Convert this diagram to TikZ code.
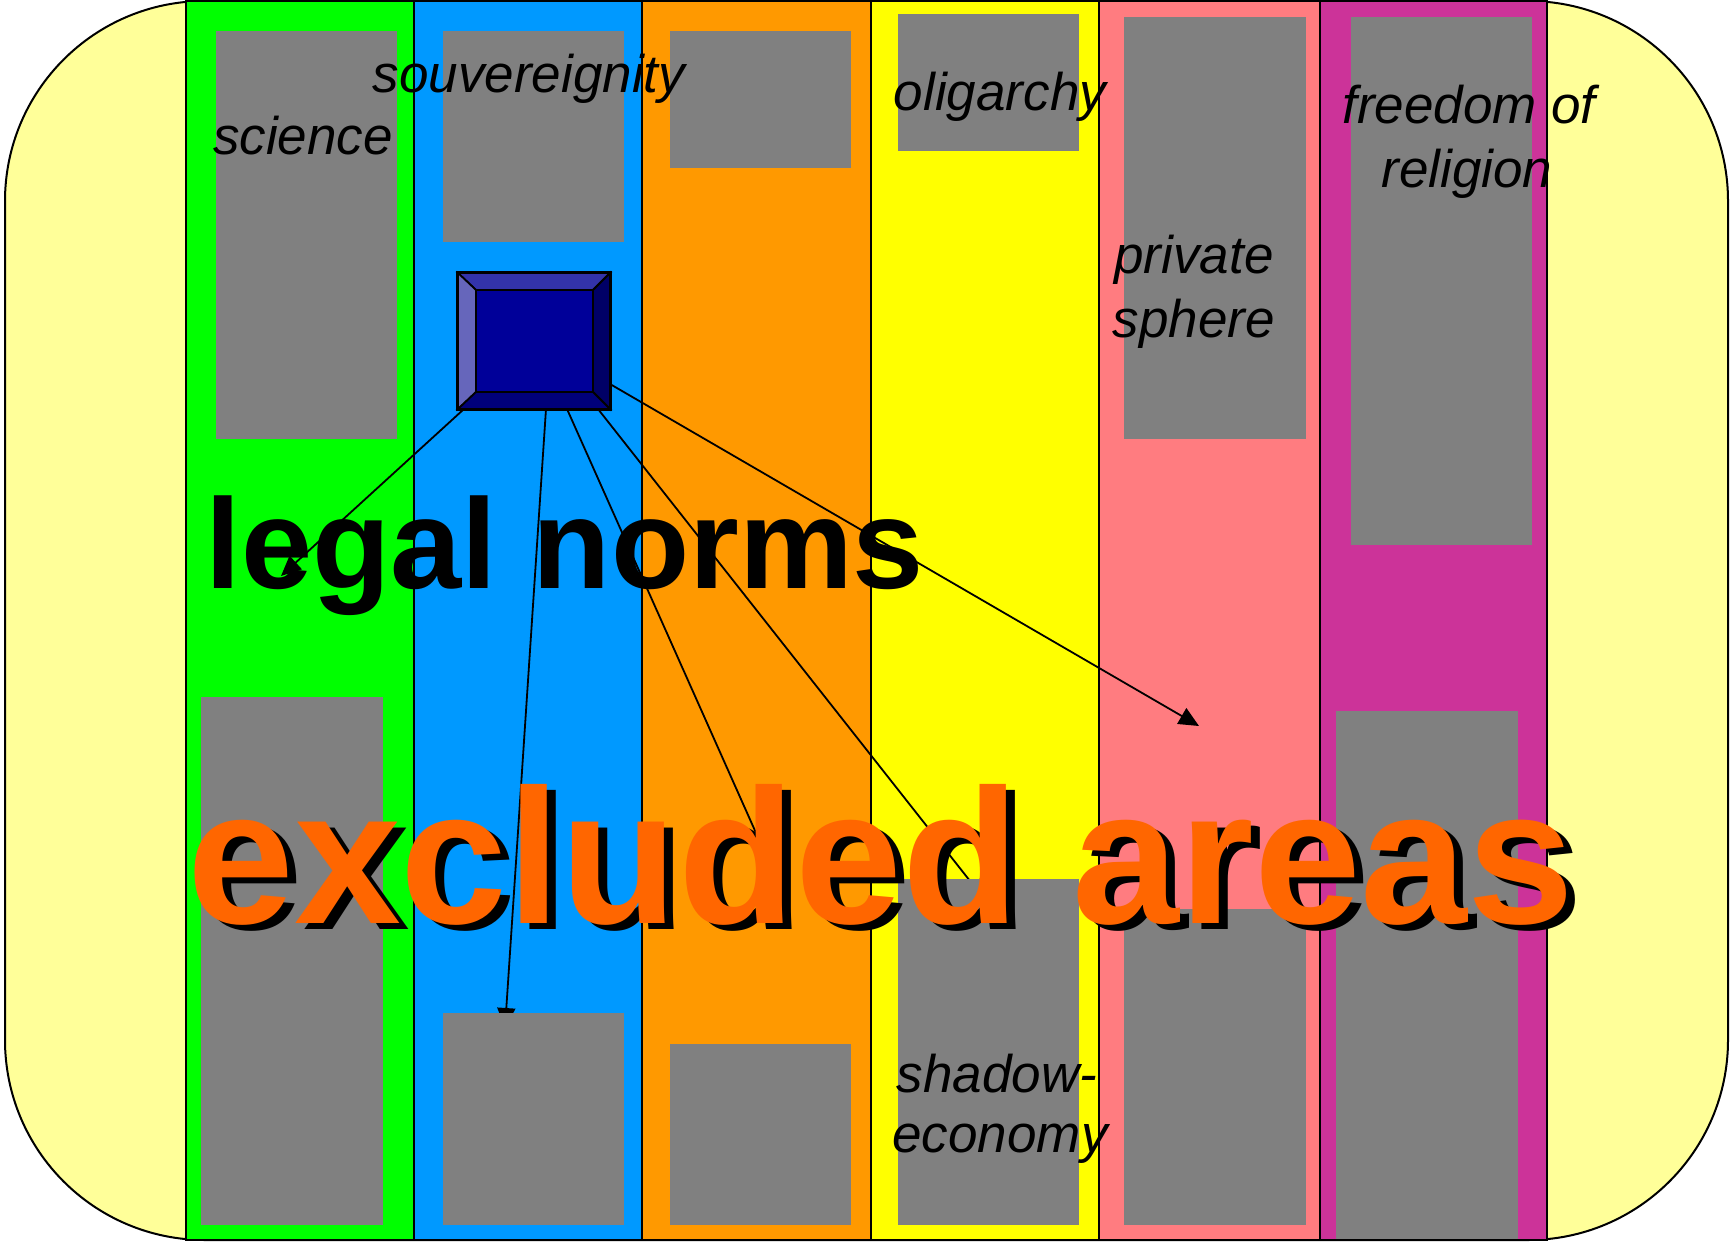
\documentclass[tikz,border=0pt]{standalone}
\usepackage{fontspec}
\setmainfont{Liberation Sans}
\usetikzlibrary{arrows.meta,calc}
\definecolor{bgyellow}{HTML}{FFFF99}
\definecolor{cgreen}{HTML}{00FF00}
\definecolor{cblue}{HTML}{0099FF}
\definecolor{corange}{HTML}{FF9900}
\definecolor{cyellow}{HTML}{FFFF00}
\definecolor{cpink}{HTML}{FF7C80}
\definecolor{cmagenta}{HTML}{CC3399}
\definecolor{cgray}{HTML}{808080}
\definecolor{ctext}{HTML}{FF6600}
\definecolor{bvtop}{HTML}{3333AA}
\definecolor{bvleft}{HTML}{6666BB}
\definecolor{bvright}{HTML}{000066}
\definecolor{bvbottom}{HTML}{00007A}
\definecolor{bvface}{HTML}{000099}
\begin{document}
\begin{tikzpicture}[x=1pt,y=-1pt,
  stripe/.style={draw=black,line width=1.6pt},
  gbox/.style={fill=cgray},
  bevel/.style={draw=black,line width=1.8pt,line join=miter},
  conn/.style={line width=1.8pt,-{Triangle[length=20pt,width=18pt]}},
  lbl/.style={font=\fontsize{53}{64}\selectfont\itshape,anchor=base,inner sep=0pt},
  big/.style={anchor=base,inner sep=0pt,font=\fontsize{192}{220}\selectfont\bfseries},
]
\useasboundingbox (0,0) rectangle (1731,1242);
% background
\draw[fill=bgyellow,line width=2pt,rounded corners=200pt] (5,1) rectangle (1728,1240);
% stripes
\draw[stripe,fill=cgreen]   (186,1) rectangle (414,1240);
\draw[stripe,fill=cblue]    (414,1) rectangle (642,1240);
\draw[stripe,fill=corange]  (642,1) rectangle (871,1240);
\draw[stripe,fill=cyellow]  (871,1) rectangle (1099,1240);
\draw[stripe,fill=cpink]    (1099,1) rectangle (1320,1240);
\draw[stripe,fill=cmagenta] (1320,1) rectangle (1547,1240);

% blue box node (placeholder for anchors)
\node[minimum width=152pt,minimum height=136pt,inner sep=0pt] (box) at (534,341) {};
\coordinate (c1) at (464,409);
\coordinate (c2) at (546,409);
\coordinate (c3) at (567,409);
\coordinate (c4) at (598,409);
\coordinate (c5) at (610,384);
\coordinate (e1) at (281,576);
\coordinate (e2) at (505,1028);
\coordinate (e3) at (777,880);
\coordinate (e4) at (985,900);
\coordinate (e5) at (1199,726);

% connectors
\draw[conn] (c1) -- (e1);
\draw[conn] (c2) -- (e2);
\draw[conn] (c3) -- (e3);
\draw[conn] (c4) -- (e4);
\draw[conn] (c5) -- (e5);

% gray boxes
\fill[gbox] (216,31) rectangle (397,439);
\fill[gbox] (201,697) rectangle (383,1225);
\fill[gbox] (443,31) rectangle (624,242);
\fill[gbox] (443,1013) rectangle (624,1225);
\fill[gbox] (670,31) rectangle (851,168);
\fill[gbox] (670,1044) rectangle (851,1225);
\fill[gbox] (898,14) rectangle (1079,151);
\fill[gbox] (898,879) rectangle (1079,1225);
\fill[gbox] (1124,17) rectangle (1306,439);
\fill[gbox] (1124,909) rectangle (1306,1225);
\fill[gbox] (1351,17) rectangle (1532,545);
\fill[gbox] (1336,711) rectangle (1518,1239);

% bevelled blue box
\filldraw[bevel,fill=bvtop] (box.north west) -- (box.north east) -- (593,290) -- (476,290) -- cycle;
\filldraw[bevel,fill=bvleft] (box.north west) -- (476,290) -- (476,392) -- (box.south west) -- cycle;
\filldraw[bevel,fill=bvright] (box.north east) -- (box.south east) -- (593,392) -- (593,290) -- cycle;
\filldraw[bevel,fill=bvbottom] (box.south west) -- (box.south east) -- (593,392) -- (476,392) -- cycle;
\filldraw[bevel,fill=bvface] (476,290) rectangle (593,392);
\draw[line width=3pt] (box.north west) rectangle (box.south east);

% labels
\node[lbl] (science) at (303,154) {science};
\node[lbl] (souv) at (529,92) {souvereignity};
\node[lbl] (olig) at (1000,110) {oligarchy};
\node[lbl] (free1) at (1469,123) {freedom of};
\node[lbl] (free2) at (1467,187) {religion};
\node[lbl] (priv1) at (1194,273) {private};
\node[lbl] (priv2) at (1194,337) {sphere};
\node[lbl] (shad1) at (997,1092) {shadow-};
\node[lbl] (shad2) at (1000,1152) {economy};

% big texts
\node[anchor=base,inner sep=0pt,font=\fontsize{128}{150}\selectfont\bfseries] (legal) at (565,588) {legal norms};
\node[big,text=black] (exclshadow) at (890,929) {excluded areas};
\node[big,text=ctext] (excl) at (881,923) {excluded areas};
\end{tikzpicture}
\end{document}
